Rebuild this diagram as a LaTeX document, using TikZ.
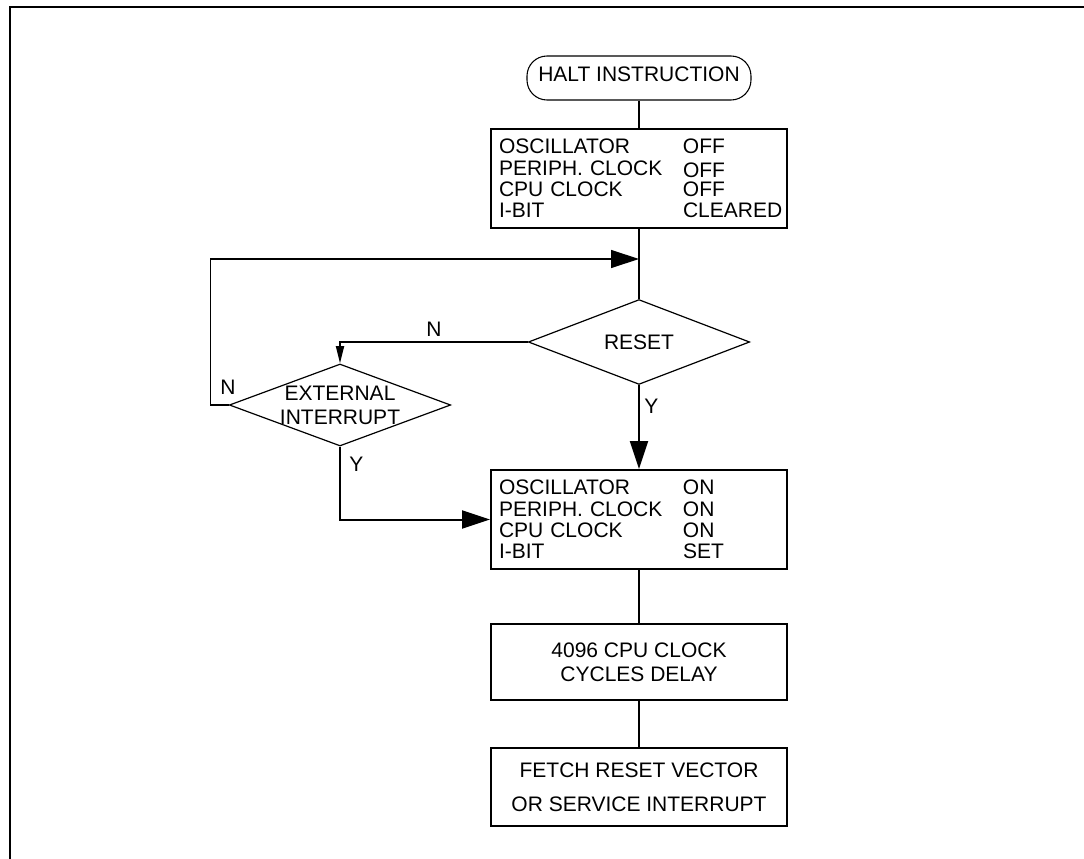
\documentclass[tikz,border=0pt]{standalone}
\usepackage{fontspec}
\setmainfont{Liberation Sans}
\usetikzlibrary{shapes.geometric,arrows.meta}
\begin{document}
\begin{tikzpicture}[x=0.75pt,y=-0.75pt,
    every node/.style={font=\fontsize{15.75pt}{16pt}\selectfont},
    flow/.style={line width=1.5pt},
    thin flow/.style={line width=0.9pt},
    big arrow/.style={-{Triangle[length=21pt,width=13.5pt]}},
    small arrow/.style={-{Triangle[length=13pt,width=6pt]}},
    terminal/.style={draw,rounded corners=15pt,line width=0.8pt,minimum width=168pt,minimum height=33pt,text depth=6pt,inner sep=0pt},
    state box/.style={draw,line width=1.5pt,minimum width=222pt,minimum height=74.25pt,text width=210pt,align=left,inner sep=0pt},
    action box/.style={draw,line width=1.5pt,minimum width=222pt,align=center,inner sep=0pt},
    decision/.style={diamond,draw,line width=0.9pt,inner sep=0pt,minimum width=166pt,minimum height=61.5pt}]
                \useasboundingbox (0,0) rectangle (1084,859);
                \draw[line width=1.3pt] (10,859) -- (10,7) -- (1084,7);

                \node[terminal] at (639,78) (halt) {HALT INSTRUCTION};
                \node[state box] at (639,178.5) (off) {\makebox[138pt][l]{OSCILLATOR}OFF\\
                    \makebox[138pt][l]{PERIPH. CLOCK}\raisebox{-1.5pt}{OFF}\\
                    \makebox[138pt][l]{CPU CLOCK}OFF\\
                    \makebox[138pt][l]{I-BIT}CLEARED};
                \node[decision] at (639,342) (reset) {RESET};
                \node[decision, label={[font=\fontsize{15.75pt}{18pt}\selectfont, align=center]center:EXTERNAL\\INTERRUPT}] at (340,405) (ext) {};
                \node[state box] at (639,519.5) (on) {\makebox[138pt][l]{OSCILLATOR}ON\\
                    \makebox[138pt][l]{PERIPH. CLOCK}ON\\
                    \makebox[138pt][l]{CPU CLOCK}ON\\
                    \makebox[138pt][l]{I-BIT}SET};
                \node[action box, minimum height=57pt, font=\fontsize{15.75pt}{18pt}\selectfont] at (639,662) (delay) {4096 CPU CLOCK\\CYCLES DELAY};
                \node[action box, minimum height=58.5pt, font=\fontsize{15.75pt}{25.5pt}\selectfont] at (639,787) (fetch) {FETCH RESET VECTOR\\OR SERVICE INTERRUPT};
                \coordinate (join) at (639,259);

                \draw[flow] (halt.south) -- (off.north);
                \draw[flow] (off.south) -- (reset.north);
                \draw[flow, big arrow] (reset.south) -- node[pos=0.25, right] {Y} (on.north);
                \draw[flow, small arrow] (reset.west) -| node[pos=0.25, above] {N} (ext.north);
                \draw[thin flow, big arrow] (ext.west) -- node[pos=0.05, above=4pt] {N} ++(-18,0) |- (join);
                \draw[flow, big arrow] (ext.south) |- node[pos=0.12, right=3pt] {Y} (on.west);
                \draw[flow] (on.south) -- (delay.north);
                \draw[flow] (delay.south) -- (fetch.north);
\end{tikzpicture}
\end{document}
